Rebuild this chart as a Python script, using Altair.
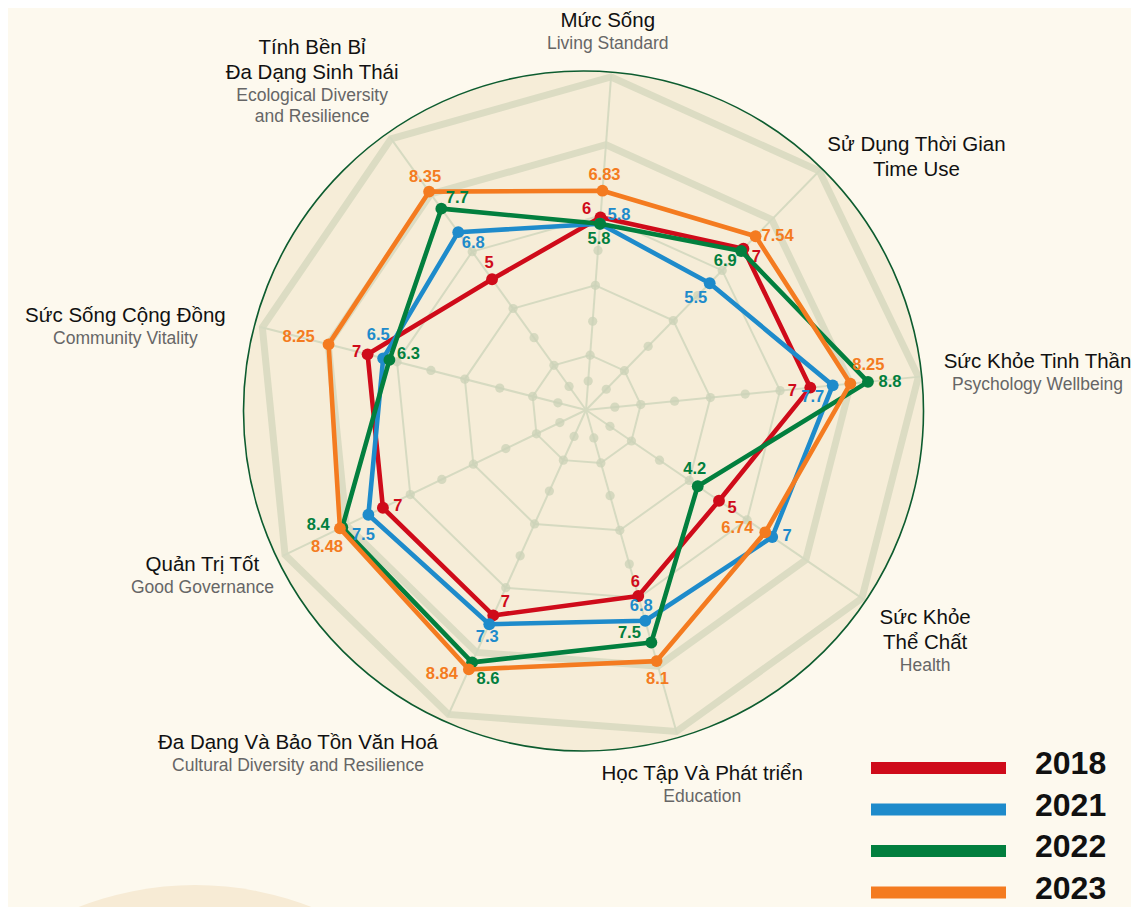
import math
import altair as alt
import pandas as pd

# ---------------- data ----------------
AXIS_VI = [["Mức Sống"], ["Sử Dụng Thời Gian", "Time Use"], ["Sức Khỏe Tinh Thần"],
           ["Sức Khỏe", "Thể Chất"], ["Học Tập Và Phát triển"], ["Đa Dạng Và Bảo Tồn Văn Hoá"],
           ["Quản Trị Tốt"], ["Sức Sống Cộng Đồng"], ["Tính Bền Bỉ", "Đa Dạng Sinh Thái"]]
AXIS_EN = [["Living Standard"], [], ["Psychology Wellbeing"], ["Health"], ["Education"],
           ["Cultural Diversity and Resilience"], ["Good Governance"], ["Community Vitality"],
           ["Ecological Diversity", "and Resilience"]]
YEARS = ["2018", "2021", "2022", "2023"]
V2018 = [6, 7, 7, 5, 6, 7, 7, 7, 5]
V2021 = [5.8, 5.5, 7.7, 7, 6.8, 7.3, 7.5, 6.5, 6.8]
V2022 = [5.8, 6.9, 8.8, 4.2, 7.5, 8.6, 8.4, 6.3, 7.7]
V2023 = [6.83, 7.54, 8.25, 6.74, 8.1, 8.84, 8.48, 8.25, 8.35]
SERIES = [V2018, V2021, V2022, V2023]

# ---------------- styles / layout ----------------
COLORS = ["#cf0b1a", "#1e8bcb", "#027f3e", "#f47b20"]
TEXT_COLORS = ["#c90c1b", "#177fba", "#06793c", "#f47b20"]
BG = "#fdf9ee"
W, H = 1123, 899
CX, CY = 578, 402          # radar centre inside the plot area (px)
S = 32.2                   # px per score point
A0, STEP = 4.3, 40         # first spoke angle (deg, clockwise from top) and spacing
THIN_RINGS_PX = [55, 125, 195]
THICK_RINGS_PX = [266, 334]
DOTS_PX = [29, 55, 89, 125, 160, 195]
SPOKE_PX = 336
# value-label nudges (px, screen direction) per series, per axis
LABEL_NUDGE = [
    [(-14, -8), (13, 8), (-18, 3), (13, 7), (-3, -14), (12, -13), (15, -2), (-11, -2), (-3, -16)],
    [(19, -9), (-14, 15), (-20, 12), (15, -1), (-4, -15), (-2, 13), (-5, 20), (-5, -23), (15, 11)],
    [(-1, 15), (-16, 10), (22, 0), (-3, -17), (-22, -9), (16, 17), (-24, -2), (19, -6), (16, -11)],
    [(2, -16), (22, 0), (18, -19), (-28, -4), (1, 18), (-27, 5), (-13, 19), (-30, -7), (-4, -15)],
]
# category label block: distance from centre (px) and angular shift (deg)
CAT_LAYOUT = [(378, -1.0), (416, 8.3), (453, 1.1), (411, 0.1), (393, -1.5),
              (449, 15.6), (418, 2.3), (468, -4.1), (427, -4.2)]

ANG = f"({A0} + {STEP}*datum.k)*PI/180"

XS = alt.Scale(domain=[-CX / S, (W - CX) / S], nice=False, zero=False)
YS = alt.Scale(domain=[-(H - CY) / S, CY / S], nice=False, zero=False)
X = alt.X("x:Q", axis=None, scale=XS)
Y = alt.Y("y:Q", axis=None, scale=YS)


def polar(df):
    return alt.Chart(df).transform_calculate(
        x=f"datum.r*sin({ANG})", y=f"datum.r*cos({ANG})")


# decorative background circles
deco = alt.Chart(pd.DataFrame({"x": [(195 - 8 - CX) / S], "y": [(CY - (1204 - 8)) / S]})).mark_point(
    shape="circle", filled=True, fill="#f7ebd5", opacity=1, size=638 ** 2, strokeWidth=0, clip=True
).encode(x=X, y=Y)
disc_df = pd.DataFrame({"x": [-2.5 / S], "y": [-1 / S]})
disc = alt.Chart(disc_df).mark_point(
    shape="circle", filled=True, fill="#f6edd8", opacity=1, size=680 ** 2, strokeWidth=0
).encode(x=X, y=Y)
disc_edge = alt.Chart(disc_df).mark_point(
    shape="circle", filled=False, stroke="#0d5c2f", opacity=1, size=680 ** 2, strokeWidth=1.6
).encode(x=X, y=Y)

# grid
thin_df = pd.DataFrame([{"ring": i, "k": k, "r": rp / S} for i, rp in enumerate(THIN_RINGS_PX) for k in range(9)])
thick_df = pd.DataFrame([{"ring": i, "k": k, "r": rp / S} for i, rp in enumerate(THICK_RINGS_PX) for k in range(9)])
thick = polar(thick_df).mark_line(interpolate="linear-closed", stroke="#dcdcc3", strokeWidth=7,
                                  strokeJoin="miter").encode(x=X, y=Y, detail="ring:N", order="k:Q")
thin = polar(thin_df).mark_line(interpolate="linear-closed", stroke="#d6dac1", strokeWidth=2).encode(
    x=X, y=Y, detail="ring:N", order="k:Q")
spoke_df = pd.DataFrame({"k": list(range(9)), "r": [SPOKE_PX / S] * 9})
spokes = alt.Chart(spoke_df).transform_calculate(
    x="0", y="0", x2=f"datum.r*sin({ANG})", y2=f"datum.r*cos({ANG})"
).mark_rule(stroke="#d6dac1", strokeWidth=2).encode(x=X, y=Y, x2="x2:Q", y2="y2:Q")
dot_df = pd.DataFrame([{"k": k, "r": d / S} for d in DOTS_PX for k in range(9)])
dots = polar(dot_df).mark_point(shape="circle", filled=True, fill="#cbd2b7", opacity=0.75,
                                size=85, strokeWidth=0).encode(x=X, y=Y)

# series
rows = []
for yi, (yr, vals) in enumerate(zip(YEARS, SERIES)):
    for k, v in enumerate(vals):
        ox, oy = LABEL_NUDGE[yi][k]
        rows.append({"year": yr, "k": k, "r": v, "label": f"{v:g}", "ox": ox, "oy": oy})
ser_df = pd.DataFrame(rows)
color = alt.Color("year:N", scale=alt.Scale(domain=YEARS, range=COLORS), legend=None)
tcolor = alt.Color("year:N", scale=alt.Scale(domain=YEARS, range=TEXT_COLORS), legend=None)

series_layers = []
for yr in YEARS:
    b = polar(ser_df).transform_filter(alt.datum.year == yr)
    series_layers.append(b.mark_line(interpolate="linear-closed", strokeWidth=4.6, strokeJoin="round").encode(
        x=X, y=Y, color=color, order="k:Q"))
    series_layers.append(b.mark_point(shape="circle", filled=True, opacity=1, size=140).encode(
        x=X, y=Y, color=color))

vlabels = polar(ser_df).transform_calculate(
    lx=f"datum.x + datum.ox/{S}", ly=f"datum.y - datum.oy/{S}"
).mark_text(font="Liberation Sans", fontWeight="bold", fontSize=16.5, baseline="middle").encode(
    x=alt.X("lx:Q", scale=XS, axis=None), y=alt.Y("ly:Q", scale=YS, axis=None),
    text="label:N", color=tcolor)

# category labels
cat_rows = []
for k in range(9):
    lines = [(t, "main") for t in AXIS_VI[k]] + [(t, "sub") for t in AXIS_EN[k]]
    ys = [0.0]
    for i in range(1, len(lines)):
        a, b2 = lines[i - 1][1], lines[i][1]
        gap = 25 if (a == "main" and b2 == "main") else (21.5 if a == "sub" and b2 == "sub" else 23)
        ys.append(ys[-1] + gap)
    mid = (ys[0] + ys[-1]) / 2
    dist, shift = CAT_LAYOUT[k]
    ang = math.radians(A0 + STEP * k + shift)
    bx, by = dist * math.sin(ang), -dist * math.cos(ang)
    for (t, kind), yy in zip(lines, ys):
        cat_rows.append({"text": t, "kind": kind, "x": bx / S, "y": -(by + yy - mid) / S})
cat_df = pd.DataFrame(cat_rows)
cat_main = alt.Chart(cat_df).transform_filter(alt.datum.kind == "main").mark_text(
    font="Liberation Sans", fontSize=20.5, color="#111111", baseline="middle").encode(x=X, y=Y, text="text:N")
cat_sub = alt.Chart(cat_df).transform_filter(alt.datum.kind == "sub").mark_text(
    font="Liberation Sans", fontSize=17.5, color="#666666", baseline="middle").encode(x=X, y=Y, text="text:N")

# legend (lifted a few px so the last entry stays inside the canvas)
LEG_X1, LEG_X2, LEG_TX, LEG_Y0, LEG_STEP = 871 - 8, 1006 - 8, 1035 - 8, 768 - 8, 41.5
leg_df = pd.DataFrame({
    "year": YEARS,
    "x": [(LEG_X1 - CX) / S] * 4,
    "x2": [(LEG_X2 - CX) / S] * 4,
    "tx": [(LEG_TX - CX) / S] * 4,
    "y": [(CY - (LEG_Y0 + i * LEG_STEP)) / S for i in range(4)],
    "ty": [(CY - (LEG_Y0 - 4 + i * LEG_STEP)) / S for i in range(4)],
})
leg_lines = alt.Chart(leg_df).mark_rule(strokeWidth=12, strokeCap="butt").encode(
    x=X, x2="x2:Q", y=Y, color=color)
leg_text = alt.Chart(leg_df).mark_text(font="Liberation Sans", fontWeight="bold", fontSize=32,
                                       align="left", baseline="middle", color="#111111").encode(
    x=alt.X("tx:Q", scale=XS, axis=None), y=alt.Y("ty:Q", scale=YS, axis=None), text="year:N")

chart = alt.layer(
    deco, disc, thick, thin, spokes, dots, disc_edge, *series_layers, vlabels, cat_main, cat_sub,
    leg_lines, leg_text
).properties(
    width=W, height=H, background=BG, padding=0,
    autosize=alt.AutoSizeParams(type="none")
).configure_view(stroke=None)

chart.save("out.html", embed_options={"renderer": "svg", "actions": False})
